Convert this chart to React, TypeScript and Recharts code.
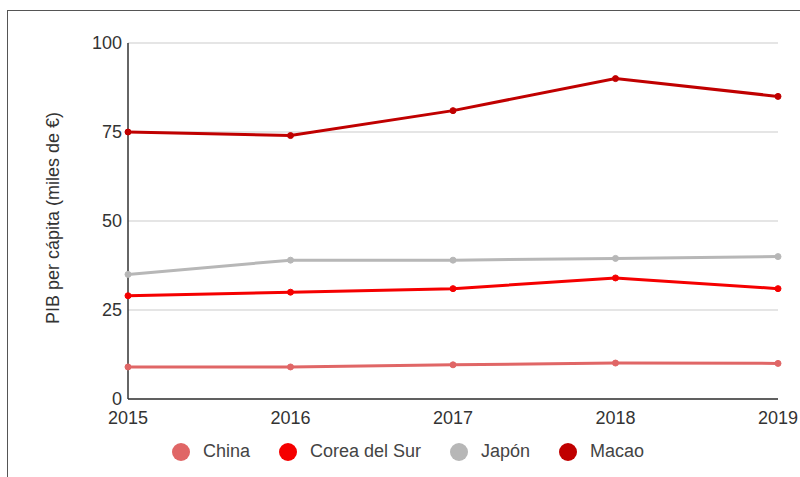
import { CartesianGrid, Legend, Line, LineChart, XAxis, YAxis } from "recharts";

const years = ["2015", "2016", "2017", "2018", "2019"];
const china = [9, 9, 9.6, 10.1, 10];
const corea = [29, 30, 31, 34, 31];
const japon = [35, 39, 39, 39.5, 40];
const macao = [75, 74, 81, 90, 85];
const yTicks = [0, 25, 50, 75, 100];

const series = [
  { key: "china", name: "China", color: "#e06666" },
  { key: "corea", name: "Corea del Sur", color: "#f50000" },
  { key: "japon", name: "Japón", color: "#b7b7b7" },
  { key: "macao", name: "Macao", color: "#c00000" },
];

const data = years.map((year, i) => ({
  year,
  china: china[i],
  corea: corea[i],
  japon: japon[i],
  macao: macao[i],
}));

const font = "'Liberation Sans', Arial, sans-serif";

function LegendRow() {
  return (
    <div style={{ display: "flex", justifyContent: "center", gap: 29, fontFamily: font, fontSize: 18, color: "#444", paddingLeft: 0 }}>
      {series.map((s) => (
        <div key={s.key} style={{ display: "flex", alignItems: "center", gap: 13 }}>
          <span style={{ width: 18, height: 18, borderRadius: "50%", background: s.color, display: "inline-block" }} />
          <span>{s.name}</span>
        </div>
      ))}
    </div>
  );
}

export default function App() {
  return (
    <div style={{ position: "absolute", left: 0, top: 0, width: 800, height: 477, background: "#fff", overflow: "hidden" }}>
      <div style={{ position: "absolute", left: 7, top: 10, width: 800, height: 480, border: "1px solid #555" }} />
      <div style={{ position: "absolute", left: 0, top: 0 }}>
        <LineChart width={800} height={477} data={data} margin={{ top: 43, right: 22, left: 38, bottom: 15 }}>
          <CartesianGrid stroke="#dcdcdc" strokeWidth={1.5} vertical={false} />
          <XAxis
            dataKey="year"
            stroke="#333"
            strokeWidth={1.5}
            tickLine={false}
            height={42}
            tick={{ fill: "#333", fontSize: 18, fontFamily: font }}
            tickMargin={6}
          />
          <YAxis
            domain={[0, 100]}
            ticks={yTicks}
            width={90}
            stroke="#333"
            strokeWidth={1.5}
            tickLine={false}
            tickMargin={0}
            tick={{ fill: "#333", fontSize: 18, fontFamily: font }}
            label={{
              value: "PIB per cápita (miles de €)",
              angle: -90,
              position: "insideLeft",
              dx: 10,
              dy: -3,
              style: { textAnchor: "middle", fill: "#333", fontSize: 18, fontFamily: font },
            }}
          />
          <Legend verticalAlign="bottom" content={() => <LegendRow />} />
          {series.map((s) => (
            <Line
              key={s.key}
              type="linear"
              dataKey={s.key}
              name={s.name}
              stroke={s.color}
              strokeWidth={3}
              dot={{ r: 3, fill: s.color, stroke: s.color, strokeWidth: 1 }}
              isAnimationActive={false}
            />
          ))}
        </LineChart>
      </div>
    </div>
  );
}
